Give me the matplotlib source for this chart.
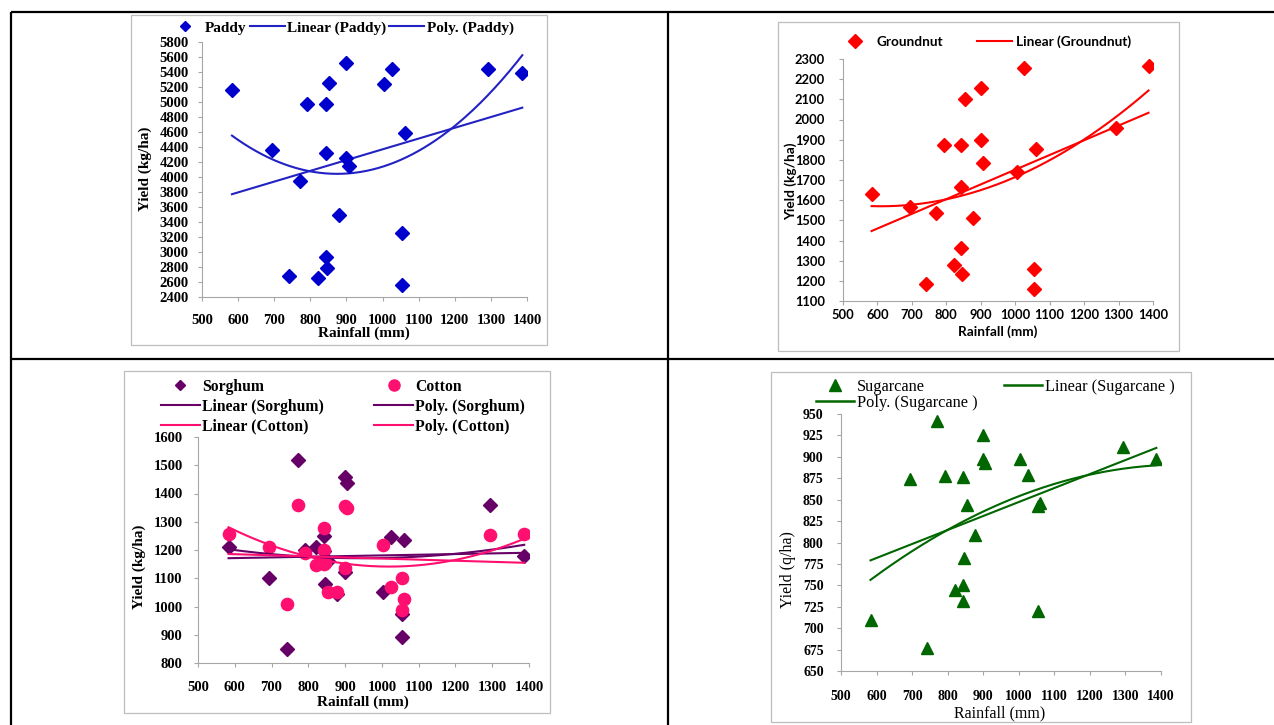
import numpy as np
import matplotlib
matplotlib.use("Agg")
import matplotlib.pyplot as plt
from matplotlib.lines import Line2D
from matplotlib.patches import Rectangle

W, H = 1274, 725

# rainfall (mm) per season, shared by all crops
RAIN = [583, 694, 741, 771, 792, 822, 842, 842, 842, 845, 853, 878,
        900, 900, 906, 1004, 1026, 1055, 1055, 1061, 1293, 1387]

PADDY = [5165, 4360, 2675, 3950, 4970, 2650, 4970, 4325, 2940, 2790, 5260, 3495,
         5520, 4250, 4150, 5245, 5435, 3255, 2565, 4590, 5435, 5385]
GROUNDNUT = [1633, 1565, 1183, 1534, 1876, 1277, 1875, 1663, 1361, 1232, 2101, 1512,
             2154, 1896, 1785, 1739, 2254, 1257, 1161, 1853, 1956, 2265]
SORGHUM = [1210, 1100, 850, 1517, 1200, 1210, 1250, 1195, 1160, 1078, 1160, 1045,
           1460, 1123, 1437, 1052, 1247, 975, 891, 1235, 1360, 1179]
COTTON = [1256, 1209, 1009, 1359, 1190, 1147, 1279, 1199, 1149, 1155, 1050, 1050,
          1356, 1138, 1350, 1218, 1070, 1102, 987, 1025, 1253, 1256]
SUGARCANE = [710, 874, 677, 942, 878, 744, 877, 750, 732, 782, 844, 809,
             925, 897, 893, 897, 879, 720, 843, 846, 912, 897]

X_TICKS = list(range(500, 1401, 100))
PADDY_TICKS = list(range(2400, 5801, 200))
GROUNDNUT_TICKS = list(range(1100, 2301, 100))
SORGHUM_TICKS = list(range(800, 1601, 100))
SUGAR_TICKS = list(range(650, 951, 25))

SERIF = "Liberation Serif"
SANS = "Lato"
AXC = "#a6a6a6"

fig = plt.figure(figsize=(W / 100, H / 100), dpi=100)
fig.patch.set_facecolor("white")

# pixel-space overlay for the table frame, chart boxes and axis titles
base = fig.add_axes([0, 0, 1, 1], zorder=0)
base.set_xlim(0, W)
base.set_ylim(H, 0)
base.axis("off")
for (x0, y0, x1, y1) in [(11, 12, W, 12), (11, 12, 11, H), (668, 12, 668, H),
                         (11, 359, W, 359)]:
    base.plot([x0, x1], [y0, y1], color="black", lw=1.6, solid_capstyle="butt")
for (l, t, r, b) in [(131, 15, 547, 345), (778, 22, 1179, 351),
                     (124, 371, 550, 713), (771, 372, 1191, 722)]:
    base.add_patch(Rectangle((l, t), r - l, b - t, fill=False, ec="#bdbdbd", lw=0.9))


def make_ax(l, t, r, b):
    ax = fig.add_axes([l / W, 1 - b / H, (r - l) / W, (b - t) / H], zorder=1)
    ax.set_facecolor("none")
    for s in ("top", "right"):
        ax.spines[s].set_visible(False)
    for s in ("left", "bottom"):
        ax.spines[s].set_color(AXC)
        ax.spines[s].set_linewidth(0.8)
    ax.tick_params(direction="out", length=3, width=0.8, color=AXC)
    ax.set_xlim(500, 1400)
    return ax


def set_ticks(ax, yticks, family, size, weight, xpad, ypad):
    ax.set_xticks(X_TICKS, labels=[str(v) for v in X_TICKS], family=family,
                  fontsize=size, fontweight=weight)
    ax.set_yticks(yticks, labels=[str(v) for v in yticks], family=family,
                  fontsize=size, fontweight=weight)
    ax.set_ylim(yticks[0], yticks[-1])
    ax.tick_params(axis="x", pad=xpad)
    ax.tick_params(axis="y", pad=ypad)


def trend(x, y, deg):
    c = np.polyfit(x, y, deg)
    xs = np.linspace(min(x), max(x), 200)
    return xs, np.polyval(c, xs)


def titles(xy_x, xy_y, family, size, weight, ylabel):
    base.text(*xy_x, "Rainfall (mm)", family=family, fontsize=size,
              fontweight=weight, ha="center", va="center")
    base.text(*xy_y, ylabel, family=family, fontsize=size, fontweight=weight,
              ha="center", va="center", rotation=90)


# ---------------- Paddy ----------------
BLUE = "#0000cc"
ax = make_ax(202, 42, 527, 297)
ax.plot(RAIN, PADDY, "D", ms=7.2, color=BLUE, mec=BLUE, zorder=3)
ax.plot(*trend(RAIN, PADDY, 1), color="#2222c4", lw=1.5)
ax.plot(*trend(RAIN, PADDY, 2), color="#2222c4", lw=1.5)
set_ticks(ax, PADDY_TICKS, SERIF, 10.5, "bold", 9.5, 6.5)
titles((364, 333), (145, 169), SERIF, 11, "bold", "Yield (kg/ha)")
h = [Line2D([], [], marker="D", ls="none", color=BLUE, ms=5),
     Line2D([], [], color="#2222c4", lw=1.5),
     Line2D([], [], color="#2222c4", lw=1.5)]
ax.legend(h, ["Paddy", "Linear (Paddy)", "Poly. (Paddy)"], ncol=3,
          loc="center left", bbox_to_anchor=(160, 28), bbox_transform=base.transData,
          frameon=False, borderpad=0, handlelength=2.3, handletextpad=0.15,
          columnspacing=0.2, prop=dict(family=SERIF, weight="bold", size=11))

# ---------------- Groundnut ----------------
RED = "#ff0000"
ax = make_ax(843, 59, 1153, 301)
ax.plot(RAIN, GROUNDNUT, "D", ms=7.6, color=RED, mec=RED, zorder=3)
ax.plot(*trend(RAIN, GROUNDNUT, 1), color=RED, lw=1.5)
ax.plot(*trend(RAIN, GROUNDNUT, 2), color=RED, lw=1.5)
set_ticks(ax, GROUNDNUT_TICKS, SANS, 9.3, "bold", 3, 10)
titles((998, 332), (791, 181), SANS, 9.8, "bold", "Yield (kg/ha)")
h = [Line2D([], [], marker="D", ls="none", color=RED, ms=7),
     Line2D([], [], color=RED, lw=1.5)]
ax.legend(h, ["Groundnut", "Linear (Groundnut)"], ncol=2,
          loc="center left", bbox_to_anchor=(830, 42), bbox_transform=base.transData,
          frameon=False, borderpad=0, handlelength=2.6, handletextpad=0.3,
          columnspacing=2.5, prop=dict(family=SANS, weight="bold", size=9.8))

# ---------------- Sorghum & Cotton ----------------
PURPLE = "#660066"
PINK = "#ff0f6f"
ax = make_ax(198, 437, 529, 663)
ax.plot(RAIN, SORGHUM, "D", ms=7.2, color=PURPLE, mec=PURPLE, zorder=3)
ax.plot(RAIN, COTTON, "o", ms=8.8, color=PINK, mec=PINK, zorder=4)
ax.plot(*trend(RAIN, SORGHUM, 1), color=PURPLE, lw=1.5, zorder=5)
ax.plot(*trend(RAIN, SORGHUM, 2), color=PURPLE, lw=1.5, zorder=5)
ax.plot(*trend(RAIN, COTTON, 1), color=PINK, lw=1.5, zorder=5)
ax.plot(*trend(RAIN, COTTON, 2), color=PINK, lw=1.5, zorder=5)
set_ticks(ax, SORGHUM_TICKS, SERIF, 10.5, "bold", 10, 8)
titles((363, 702), (139, 567), SERIF, 11, "bold", "Yield (kg/ha)")
h = [Line2D([], [], marker="D", ls="none", color=PURPLE, ms=5),
     Line2D([], [], color=PURPLE, lw=1.5),
     Line2D([], [], color=PINK, lw=1.5),
     Line2D([], [], marker="o", ls="none", color=PINK, ms=8),
     Line2D([], [], color=PURPLE, lw=1.5),
     Line2D([], [], color=PINK, lw=1.5)]
ax.legend(h, ["Sorghum", "Linear (Sorghum)", "Linear (Cotton)",
              "Cotton", "Poly. (Sorghum)", "Poly. (Cotton)"], ncol=2,
          loc="upper left", bbox_to_anchor=(153, 371), bbox_transform=base.transData,
          frameon=False, borderpad=0, handlelength=2.5, handletextpad=0.13,
          columnspacing=3.2, labelspacing=0.25,
          prop=dict(family=SERIF, weight="bold", size=11.3))

# ---------------- Sugarcane ----------------
GREEN = "#006600"
ax = make_ax(841, 414, 1161, 671)
ax.plot(RAIN, SUGARCANE, "^", ms=9, color=GREEN, mec=GREEN, zorder=3)
ax.plot(*trend(RAIN, SUGARCANE, 1), color=GREEN, lw=1.5)
ax.plot(*trend(RAIN, SUGARCANE, 2), color=GREEN, lw=1.5)
set_ticks(ax, SUGAR_TICKS, SERIF, 10, "bold", 10.5, 9.5)
titles((1000, 713), (788, 570), SERIF, 11.5, "normal", "Yield (q/ha)")
h = [Line2D([], [], marker="^", ls="none", color=GREEN, ms=8.5),
     Line2D([], [], color=GREEN, lw=1.8),
     Line2D([], [], color=GREEN, lw=1.8)]
ax.legend(h, ["Sugarcane", "Poly. (Sugarcane )", "Linear (Sugarcane )"], ncol=2,
          loc="upper left", bbox_to_anchor=(808, 371), bbox_transform=base.transData,
          frameon=False, borderpad=0, handlelength=2.3, handletextpad=0.2,
          columnspacing=1.6, labelspacing=0.0,
          prop=dict(family=SERIF, size=11.8))

fig.savefig("out.png", dpi=100)
